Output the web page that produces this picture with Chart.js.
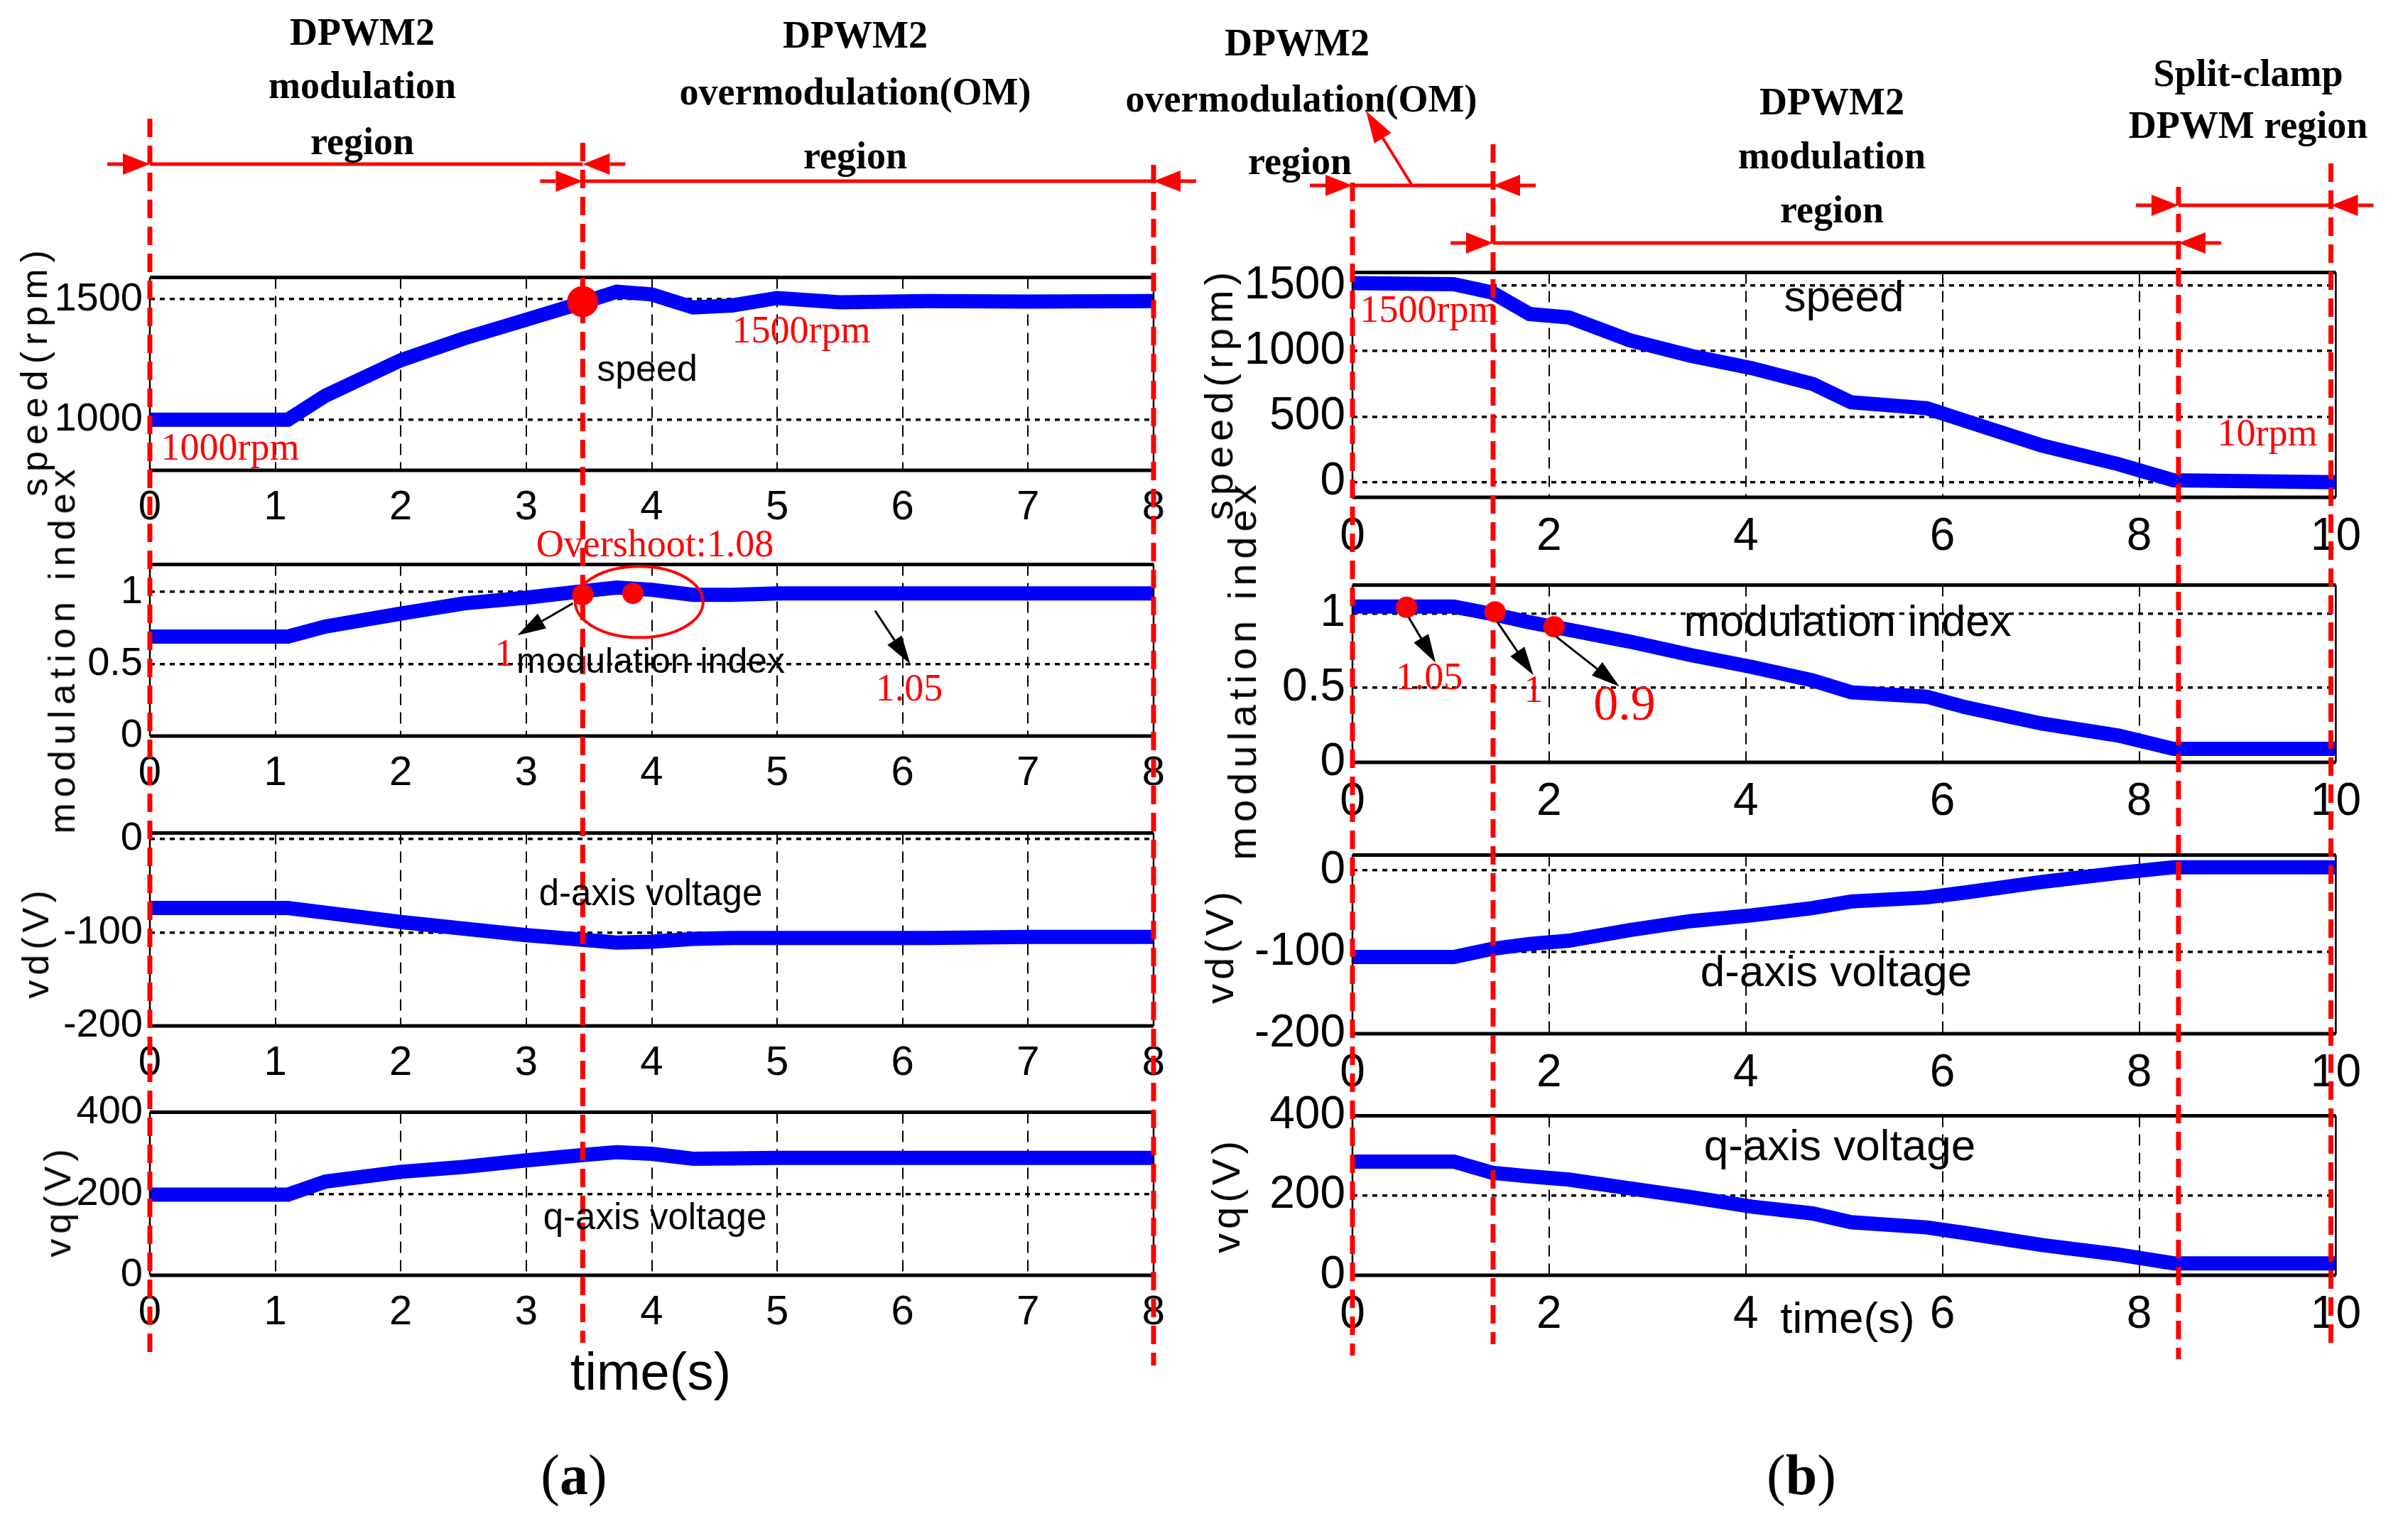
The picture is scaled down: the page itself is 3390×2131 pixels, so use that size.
<!DOCTYPE html>
<html>
<head>
<meta charset="utf-8">
<script src="https://cdn.jsdelivr.net/npm/chart.js@4.4.0/dist/chart.umd.min.js"></script>
<style>
body{margin:0;width:3390px;height:2131px;background:#fff;position:relative;overflow:hidden}
canvas.plot{position:absolute}
#overlay{position:absolute;left:0;top:0;z-index:5}
.t{position:absolute;transform:translate(-50%,-50%);white-space:nowrap;line-height:1;z-index:6}
.reg{font-family:"Liberation Serif";font-weight:bold;font-size:54px;color:#000}
.red{font-family:"Liberation Serif";font-size:54px;color:#f00}
.lab{font-family:"Liberation Sans";color:#000}
.yt{font-family:"Liberation Sans";color:#000;transform:translate(-50%,-50%) rotate(-90deg)}
</style>
</head>
<body>
<canvas id="overlay" width="3390" height="2131"></canvas>

<!-- titulos das regioes -->
<div class="t reg" style="left:510px;top:45px">DPWM2</div>
<div class="t reg" style="left:510px;top:120px">modulation</div>
<div class="t reg" style="left:510px;top:199px">region</div>
<div class="t reg" style="left:1204px;top:49px">DPWM2</div>
<div class="t reg" style="left:1204px;top:129px">overmodulation(OM)</div>
<div class="t reg" style="left:1204px;top:219px">region</div>
<div class="t reg" style="left:1826px;top:60px">DPWM2</div>
<div class="t reg" style="left:1832px;top:139px">overmodulation(OM)</div>
<div class="t reg" style="left:1830px;top:227px">region</div>
<div class="t reg" style="left:2579px;top:143px">DPWM2</div>
<div class="t reg" style="left:2579px;top:219px">modulation</div>
<div class="t reg" style="left:2579px;top:295px">region</div>
<div class="t reg" style="left:3165px;top:103px">Split-clamp</div>
<div class="t reg" style="left:3165px;top:176px">DPWM region</div>

<!-- anotacoes vermelhas -->
<div class="t red" style="left:1128px;top:464px">1500rpm</div>
<div class="t red" style="left:324px;top:629px">1000rpm</div>
<div class="t red" style="left:922px;top:765px">Overshoot:1.08</div>
<div class="t red" style="left:710px;top:919px">1</div>
<div class="t red" style="left:1280px;top:968px">1.05</div>
<div class="t red" style="left:2012px;top:435px">1500rpm</div>
<div class="t red" style="left:3192px;top:609px">10rpm</div>
<div class="t red" style="left:2012px;top:952px">1.05</div>
<div class="t red" style="left:2159px;top:970px">1</div>
<div class="t red" style="left:2287px;top:990px;font-size:70px">0.9</div>

<!-- rotulos pretos -->
<div class="t lab" style="left:911px;top:518px;font-size:52px">speed</div>
<div class="t lab" style="left:916px;top:930px;font-size:50px">modulation index</div>
<div class="t lab" style="left:916px;top:1256px;font-size:51px">d-axis voltage</div>
<div class="t lab" style="left:922px;top:1712px;font-size:51px">q-axis voltage</div>
<div class="t lab" style="left:916px;top:1931px;font-size:74px">time(s)</div>
<div class="t lab" style="left:2596px;top:417px;font-size:62px">speed</div>
<div class="t lab" style="left:2601px;top:874px;font-size:61px">modulation index</div>
<div class="t lab" style="left:2585px;top:1367px;font-size:62px">d-axis voltage</div>
<div class="t lab" style="left:2590px;top:1612px;font-size:62px">q-axis voltage</div>
<div class="t lab" style="left:2601px;top:1855px;font-size:62px">time(s)</div>
<div class="t" style="left:808px;top:2076px;font-family:'Liberation Serif';font-size:80px">(<b>a</b>)</div>
<div class="t" style="left:2536px;top:2076px;font-family:'Liberation Serif';font-size:80px">(<b>b</b>)</div>

<!-- titulos dos eixos y -->
<div class="t yt" style="left:48px;top:521px;font-size:52px;letter-spacing:9px">speed(rpm)</div>
<div class="t yt" style="left:87px;top:913px;font-size:52px;letter-spacing:8px">modulation index</div>
<div class="t yt" style="left:50px;top:1326px;font-size:52px;letter-spacing:7px">vd(V)</div>
<div class="t yt" style="left:81px;top:1690px;font-size:52px;letter-spacing:7px">vq(V)</div>
<div class="t yt" style="left:1716px;top:554px;font-size:56px;letter-spacing:7px">speed(rpm)</div>
<div class="t yt" style="left:1749px;top:943px;font-size:56px;letter-spacing:7px">modulation index</div>
<div class="t yt" style="left:1717px;top:1331px;font-size:56px;letter-spacing:6px">vd(V)</div>
<div class="t yt" style="left:1726px;top:1682px;font-size:56px;letter-spacing:6px">vq(V)</div>

<script>
// ---------- (a) aceleracao 1000 -> 1500 rpm ----------
const tempoA      = [0, 1.1, 1.4, 2.0, 2.5, 3.0, 3.45, 3.72, 4.0, 4.33, 4.64, 5.0, 5.5, 6.2, 7, 8];
const velocidadeA = [1000, 1000, 1100, 1247, 1337, 1415, 1486, 1531, 1520, 1466, 1474, 1505, 1487, 1492, 1490, 1492];
const indiceA     = [0.69, 0.69, 0.76, 0.85, 0.92, 0.96, 1.005, 1.03, 1.015, 0.98, 0.98, 0.99, 0.99, 0.99, 0.99, 0.99];
const vdA         = [-74, -74, -79, -89, -96, -103, -108, -111, -110, -107, -106, -106, -106, -106, -105, -105];
const vqA         = [198, 198, 230, 254, 266, 282, 295, 302, 298, 286, 287, 288, 288, 288, 288, 288];

// ---------- (b) desaceleracao 1500 -> 10 rpm ----------
const tempoB      = [0, 1.03, 1.42, 1.8, 2.2, 2.82, 3.44, 4.06, 4.68, 5.07, 5.84, 6.23, 7.01, 7.79, 8.35, 10];
const velocidadeB = [1518, 1510, 1447, 1283, 1257, 1083, 964, 870, 750, 610, 564, 469, 280, 138, 15, 0];
const indiceB     = [1.045, 1.045, 0.995, 0.94, 0.89, 0.81, 0.72, 0.64, 0.55, 0.47, 0.44, 0.37, 0.26, 0.18, 0.09, 0.09];
const vdB         = [-106, -106, -96, -90, -86, -73, -62, -55, -46, -38, -33, -27, -14, -3, 4, 4];
const vqB         = [285, 285, 257, 248, 240, 218, 196, 172, 155, 133, 120, 106, 76, 52, 30, 30];

// ticks
const ticksTempoA = [0, 1, 2, 3, 4, 5, 6, 7, 8];
const ticksTempoB = [0, 2, 4, 6, 8, 10];
const ticksVelA   = [1000, 1500];
const ticksVelB   = [0, 500, 1000, 1500];
const ticksIndice = [0, 0.5, 1];
const ticksVd     = [-200, -100, 0];
const ticksVq     = [0, 200, 400];

// pontos marcados em vermelho
const marcaVelA_t = [3.45];
const marcaVelA_v = [1490];
const marcaIndA_t = [3.45, 3.85];
const marcaIndA_v = [0.98, 0.99];
const marcaIndB_t = [0.55, 1.45, 2.05];
const marcaIndB_v = [1.04, 1.01, 0.91];

// limites das regioes (s)
const limitesA = [0, 3.45, 8];
const limitesB = [0, 1.43, 8.4, 9.95];

// caixa preta em volta (estilo matlab)
const moldura = {
    id: 'moldura',
    afterDatasetsDraw(chart) {
        const a = chart.chartArea, ctx = chart.ctx;
        ctx.save();
        ctx.strokeStyle = '#000';
        ctx.lineWidth = 5;
        ctx.beginPath();
        ctx.moveTo(a.left, a.top); ctx.lineTo(a.right, a.top);
        ctx.moveTo(a.left, a.bottom); ctx.lineTo(a.right, a.bottom);
        ctx.stroke();
        ctx.lineWidth = 2.5;
        ctx.beginPath();
        ctx.moveTo(a.left, a.top); ctx.lineTo(a.left, a.bottom);
        ctx.moveTo(a.right, a.top); ctx.lineTo(a.right, a.bottom);
        ctx.stroke();
        ctx.restore();
    }
};

function renderiza_subplot(caixa, tempo, valores, xr, xticks, yr, yticks, fonte, marcas){
    const YW = 170, P = 40, RP = 50, XH = 100;
    const cv = document.createElement('canvas');
    cv.className = 'plot';
    cv.width = (caixa.r - caixa.l) + YW + RP;
    cv.height = (caixa.b - caixa.t) + P + XH;
    cv.style.left = (caixa.l - YW) + 'px';
    cv.style.top = (caixa.t - P) + 'px';
    document.body.appendChild(cv);

    var datasets = [{
        data: tempo.map((t, i) => ({x: t, y: valores[i]})),
        borderColor: '#0000ff',
        borderWidth: 20,
        pointRadius: 0,
        tension: 0,
        fill: false,
        order: 2
    }];
    if (marcas) {
        // pontos vermelhos por cima da curva
        datasets.push({
            data: marcas.t.map((t, i) => ({x: t, y: marcas.v[i]})),
            showLine: false,
            pointRadius: marcas.raio,
            pointBackgroundColor: '#ff0000',
            pointBorderColor: '#ff0000',
            pointBorderWidth: 0,
            order: 1
        });
    }

    const grafico = new Chart(cv.getContext('2d'), {
        type: 'line',
        data: { datasets: datasets },
        options: {
            responsive: false,
            animation: false,
            devicePixelRatio: 1,
            layout: { padding: { top: P, right: RP, left: 0, bottom: 0 } },
            plugins: { legend: { display: false }, tooltip: { enabled: false } },
            scales: {
                x: {
                    type: 'linear', min: xr[0], max: xr[1],
                    afterBuildTicks: s => { s.ticks = xticks.map(v => ({value: v})); },
                    afterFit: s => { s.height = XH; },
                    grid: { color: '#000', lineWidth: 2, drawTicks: false },
                    border: { display: false, dash: [16, 10] },
                    ticks: { color: '#000', padding: 18, maxRotation: 0, autoSkip: false,
                             font: { family: 'Liberation Sans', size: fonte.x },
                             callback: v => String(v) }
                },
                y: {
                    type: 'linear', min: yr[0], max: yr[1],
                    afterBuildTicks: s => { s.ticks = yticks.map(v => ({value: v})); },
                    afterFit: s => { s.width = YW; },
                    grid: { color: '#000', lineWidth: 3.5, drawTicks: false },
                    border: { display: false, dash: [7, 7] },
                    ticks: { color: '#000', padding: 10, autoSkip: false,
                             font: { family: 'Liberation Sans', size: fonte.y },
                             callback: v => String(v) }
                }
            }
        },
        plugins: [moldura]
    });
    grafico.offX = caixa.l - YW;
    grafico.offY = caixa.t - P;
    return grafico;
}

const fonteA = {x: 58, y: 56};
const fonteB = {x: 64, y: 64};

const a1 = renderiza_subplot({l:211, r:1624, t:387, b:662}, tempoA, velocidadeA, [0, 8], ticksTempoA, [790, 1590], ticksVelA, fonteA, {t: marcaVelA_t, v: marcaVelA_v, raio: 22});
const a2 = renderiza_subplot({l:211, r:1624, t:791, b:1036}, tempoA, indiceA, [0, 8], ticksTempoA, [0, 1.19], ticksIndice, fonteA, {t: marcaIndA_t, v: marcaIndA_v, raio: 15});
const a3 = renderiza_subplot({l:211, r:1624, t:1169, b:1444}, tempoA, vdA, [0, 8], ticksTempoA, [-200, 6], ticksVd, fonteA, null);
const a4 = renderiza_subplot({l:211, r:1624, t:1562, b:1795}, tempoA, vqA, [0, 8], ticksTempoA, [0, 400], ticksVq, fonteA, null);

const b1 = renderiza_subplot({l:1904, r:3292, t:375, b:700}, tempoB, velocidadeB, [0, 10], ticksTempoB, [-115, 1600], ticksVelB, fonteB, null);
const b2 = renderiza_subplot({l:1904, r:3292, t:815, b:1073}, tempoB, indiceB, [0, 10], ticksTempoB, [0, 1.19], ticksIndice, fonteB, {t: marcaIndB_t, v: marcaIndB_v, raio: 15});
const b3 = renderiza_subplot({l:1904, r:3292, t:1195, b:1455}, tempoB, vdB, [0, 10], ticksTempoB, [-200, 19], ticksVd, fonteB, null);
const b4 = renderiza_subplot({l:1904, r:3292, t:1562, b:1795}, tempoB, vqB, [0, 10], ticksTempoB, [0, 400], ticksVq, fonteB, null);

// ---------- camada de anotacoes ----------
const ov = document.getElementById('overlay').getContext('2d');

function px(g, x){ return g.offX + g.scales.x.getPixelForValue(x); }
function py(g, y){ return g.offY + g.scales.y.getPixelForValue(y); }

function seta(x1, y1, x2, y2, cor, larg, comp, meia){
    const ang = Math.atan2(y2 - y1, x2 - x1);
    const bx = x2 - comp * Math.cos(ang), by = y2 - comp * Math.sin(ang);
    ov.strokeStyle = cor; ov.fillStyle = cor; ov.lineWidth = larg;
    ov.setLineDash([]);
    ov.beginPath(); ov.moveTo(x1, y1); ov.lineTo(bx, by); ov.stroke();
    ov.beginPath();
    ov.moveTo(x2, y2);
    ov.lineTo(bx + meia * Math.sin(ang), by - meia * Math.cos(ang));
    ov.lineTo(bx - meia * Math.sin(ang), by + meia * Math.cos(ang));
    ov.closePath(); ov.fill();
}

function regiao(xa, xb, y){
    ov.strokeStyle = '#f00'; ov.lineWidth = 5; ov.setLineDash([]);
    ov.beginPath(); ov.moveTo(xa, y); ov.lineTo(xb, y); ov.stroke();
    seta(xa - 60, y, xa, y, '#f00', 5, 38, 15);
    seta(xb + 60, y, xb, y, '#f00', 5, 38, 15);
}

function tracejada(x, y1, y2){
    ov.strokeStyle = '#f00'; ov.lineWidth = 7; ov.setLineDash([26, 12]);
    ov.beginPath(); ov.moveTo(x, y1); ov.lineTo(x, y2); ov.stroke();
    ov.setLineDash([]);
}

// linhas verticais vermelhas
const extA = [[167, 1908], [201, 1890], [232, 1922]];
limitesA.forEach((v, i) => tracejada(px(a1, v), extA[i][0], extA[i][1]));
const extB = [[257, 1908], [203, 1892], [263, 1913], [230, 1890]];
limitesB.forEach((v, i) => tracejada(px(b1, v), extB[i][0], extB[i][1]));

// setas das regioes
regiao(px(a1, limitesA[0]), px(a1, limitesA[1]), 231);
regiao(px(a1, limitesA[1]), px(a1, limitesA[2]), 255);
regiao(px(b1, limitesB[0]), px(b1, limitesB[1]), 261);
regiao(px(b1, limitesB[1]), px(b1, limitesB[2]), 342);
regiao(px(b1, limitesB[2]), px(b1, limitesB[3]), 289);
seta(1988, 261, 1923, 156, '#f00', 4, 45, 14);

// circulo do overshoot
ov.strokeStyle = '#f00'; ov.lineWidth = 4;
ov.beginPath();
ov.ellipse(px(a2, 3.9), py(a2, 0.93), 90, 50, 0, 0, Math.PI * 2);
ov.stroke();

// setas pretas
var d = [px(a2, marcaIndA_t[0]), py(a2, marcaIndA_v[0])];
seta(d[0] - 14, d[1] + 12, d[0] - 92, d[1] + 57, '#000', 3, 40, 12);
seta(px(a2, 5.78), py(a2, 0.87), px(a2, 6.06), py(a2, 0.5), '#000', 3, 40, 12);
var fins = [[41, 78], [54, 89], [92, 84]];
marcaIndB_t.forEach((t, i) => {
    const x = px(b2, t), y = py(b2, marcaIndB_v[i]);
    seta(x + 3, y + 14, x + fins[i][0], y + fins[i][1], '#000', 3, 40, 12);
});
</script>
</body>
</html>
